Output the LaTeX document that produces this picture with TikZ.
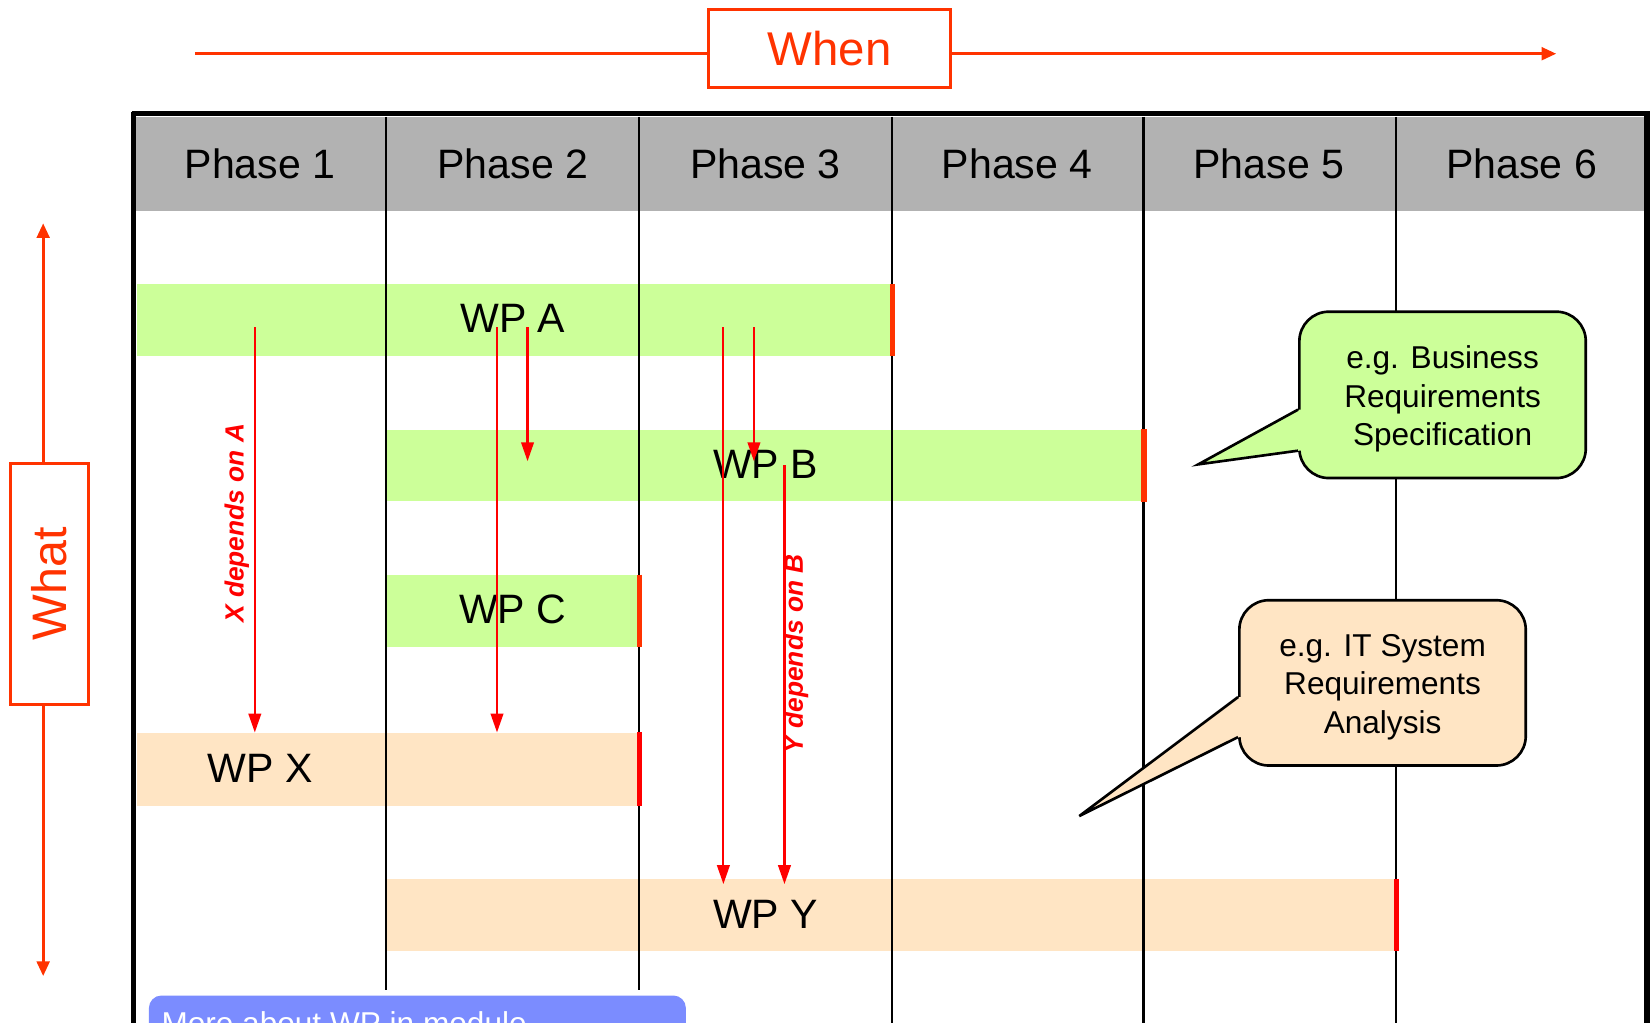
\documentclass[tikz,border=0pt]{standalone}
\usepackage{fontspec}
\setmainfont{Liberation Sans}
\usetikzlibrary{arrows.meta,fit,calc}
\definecolor{whenred}{HTML}{FF3300}
\definecolor{depred}{HTML}{FF0000}
\definecolor{wpgreen}{HTML}{CCFF99}
\definecolor{wppeach}{HTML}{FFE5C4}
\definecolor{hdrgray}{HTML}{B2B2B2}
\definecolor{infoblue}{HTML}{7B8CFF}
\begin{document}
\begin{tikzpicture}[x=0.5pt,y=-0.5pt,
  hdrcell/.style={fill=hdrgray, minimum width=120pt, minimum height=44.5pt, inner sep=0pt, font=\fontsize{19.5}{23}\selectfont},
  wpbar/.style={inner sep=0pt, draw=none},
  wplabel/.style={font=\fontsize{19.5}{23}\selectfont, inner sep=0pt},
  divider/.style={line width=1pt, black},
  framel/.style={line width=2.5pt, black},
  endmarkA/.style={line width=2.5pt, whenred},
  endmarkB/.style={line width=2.5pt, depred},
  dep/.style={line width=1pt, depred, -{Triangle[length=9pt,width=6pt]}},
  deplabel/.style={font=\fontsize{12.5}{15}\selectfont\bfseries\itshape, text=depred, rotate=90, inner sep=0pt},
  callbox/.style={draw=black, line width=1.25pt, rounded corners=14pt, minimum width=136pt, inner sep=0pt},
  calltext/.style={align=center, font=\fontsize{15}{18.3}\selectfont, inner sep=0pt},
  calltail/.style={draw=black, line width=1.25pt, line join=miter},
  axisline/.style={line width=1.5pt, whenred},
  axisbox/.style={draw=whenred, fill=white, line width=1.5pt, text=whenred, inner sep=0pt},
]
\useasboundingbox (0,0) rectangle (1567,971);
\clip (0,0) rectangle (1567,971);

% header cells
\node[hdrcell] (ph1) at (247,155.5) {Phase 1};
\node[hdrcell] (ph2) at (487,155.5) {Phase 2};
\node[hdrcell] (ph3) at (727,155.5) {Phase 3};
\node[hdrcell] (ph4) at (966,155.5) {Phase 4};
\node[hdrcell] (ph5) at (1205,155.5) {Phase 5};
\node[hdrcell] (ph6) at (1445,155.5) {Phase 6};

% work package bars
\node[wpbar, fill=wpgreen, fit={(130,270) (847,338)}] (wpA) {};
\node[wpbar, fill=wpgreen, fit={(368,408) (1086,476)}] (wpB) {};
\node[wpbar, fill=wpgreen, fit={(368,546) (607,614)}] (wpC) {};
\node[wpbar, fill=wppeach, fit={(130,696) (607,765)}] (wpX) {};
\node[wpbar, fill=wppeach, fit={(368,835) (1326,903)}] (wpY) {};

% dividers
\draw[divider] (367,111) -- (367,940);
\draw[divider] (607,111) -- (607,940);
\draw[divider] (847,111) -- (847,1000);
\draw[divider] (1086,111) -- (1086,1000);
\draw[divider] (1326,111) -- (1326,1000);

% frame
\draw[framel] (125,108) -- (1570,108);
\draw[framel] (127,106) -- (127,1000);
\draw[framel] (1564,106) -- (1564,1000);

% end marks
\draw[endmarkA] (wpA.north east) -- (wpA.south east);
\draw[endmarkA] (wpB.north east) -- (wpB.south east);
\draw[endmarkA] (wpC.north east) -- (wpC.south east);
\draw[endmarkB] (wpX.north east) -- (wpX.south east);
\draw[endmarkB] (wpY.north east) -- (wpY.south east);

% bar labels
\node[wplabel] (tA) at (487,302) {WP A};
\node[wplabel] (tB) at (727,441) {WP B};
\node[wplabel] (tC) at (487,579) {WP C};
\node[wplabel] (tX) at (247,730) {WP X};
\node[wplabel] (tY) at (727,868) {WP Y};

% dependency arrows
\draw[dep] ($(242,0 |- wpA.center)+(0,7)$) -- (242,0 |- wpX.north);
\draw[dep] ($(472,0 |- wpA.center)+(0,7)$) -- (472,0 |- wpX.north);
\draw[dep] ($(501,0 |- wpA.center)+(0,7)$) -- ($(501,0 |- wpB.center)+(0,-4)$);
\draw[dep] ($(716,0 |- wpA.center)+(0,7)$) -- ($(716,0 |- wpB.center)+(0,-4)$);
\draw[dep] ($(687,0 |- wpA.center)+(0,7)$) -- ($(687,0 |- wpY.north)+(0,5)$);
\draw[dep] (745,0 |- wpB.center) -- ($(745,0 |- wpY.north)+(0,5)$);
\node[deplabel] (lx) at (225,497) {X depends on A};
\node[deplabel] (ly) at (756,621) {Y depends on B};

% callouts
\node[callbox, fill=wpgreen, minimum height=79pt] (c1) at (1370,375) {};
\fill[wpgreen] (1239,389) -- (1234,389) -- (1138,441) -- (1234,428) -- (1239,428) -- cycle;
\draw[calltail] (c1.west |- 0,389) -- (1138,441) -- (c1.west |- 0,428);
\node[calltext] (c1t) at (1370,379) {e.g. Business\\Requirements\\Specification};
\node[callbox, fill=wppeach, minimum height=78.5pt] (c2) at (1313,648.5) {};
\fill[wppeach] (1182,662) -- (1177,662) -- (1025,775) -- (1177,700) -- (1182,700) -- cycle;
\draw[calltail] (c2.west |- 0,662) -- (1025,775) -- (c2.west |- 0,700);
\node[calltext] (c2t) at (1313,652.5) {e.g. IT System\\Requirements\\Analysis};

% When axis
\node[axisbox, minimum width=115pt, minimum height=37pt, font=\fontsize{22.5}{27}\selectfont] (when) at (788,46) {When};
\draw[axisline] (185,51) -- (when.west |- 0,51);
\draw[axisline, -{Triangle[length=7pt,width=6pt]}] (when.east |- 0,51) -- (1478,51);

% What axis
\node[axisbox, rotate=90, minimum width=114.5pt, minimum height=37pt, font=\fontsize{23}{27}\selectfont] (what) at (47,554.5) {What};
\draw[axisline, -{Triangle[length=7pt,width=6pt]}] (41,0 |- what.east) -- (41,212);
\draw[axisline, -{Triangle[length=7pt,width=6pt]}] (41,0 |- what.west) -- (41,927);

% info box
\node[fill=infoblue, rounded corners=6pt, minimum width=255pt, minimum height=30pt, anchor=north west, inner sep=0pt] (more) at (141,945) {};
\node[anchor=base west, text=white, font=\fontsize{15}{18}\selectfont, inner sep=0pt] (moretext) at (153,982) {More about WP in module};
\end{tikzpicture}
\end{document}
